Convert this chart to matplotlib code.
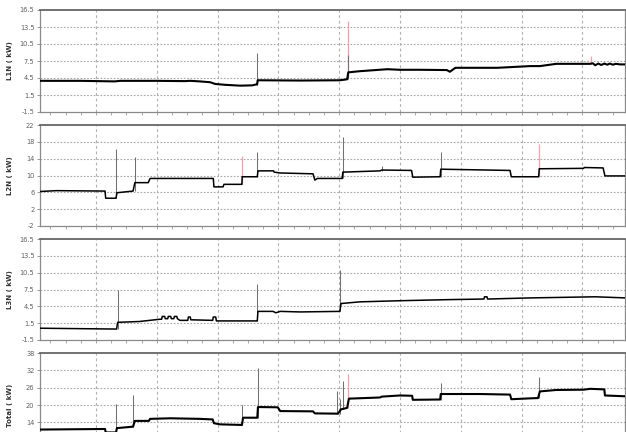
import matplotlib
matplotlib.use("Agg")
import matplotlib.pyplot as plt
from matplotlib.ticker import FixedLocator, MultipleLocator

# time axis in hours (gridlines every hour)
# ---- L1N ----
t_l1 = [-0.92, -0.26, 0.31, 0.40, 1.00, 1.46, 1.55, 1.71, 1.88, 1.96,
        2.12, 2.37, 2.57, 2.63, 2.65, 2.66, 3.36, 4.01, 4.13, 4.15,
        4.34, 4.79, 5.00, 5.33, 5.77, 5.82, 5.91, 6.60, 7.14, 7.30,
        7.57, 8.13, 8.17, 8.21, 8.26, 8.31, 8.36, 8.41, 8.45, 8.50,
        8.55, 8.62, 8.72]
v_l1 = [4.0, 4.0, 3.9, 4.0, 4.0, 3.95, 4.0, 3.9, 3.75, 3.45,
        3.3, 3.15, 3.2, 3.35, 3.35, 4.1, 4.05, 4.1, 4.27, 5.5,
        5.7, 6.05, 5.95, 5.95, 5.9, 5.6, 6.3, 6.3, 6.6, 6.6,
        7.0, 7.0, 7.1, 6.75, 7.05, 6.8, 7.05, 6.85, 7.05, 6.85,
        7.0, 6.9, 6.9]
sp_l1_t = [4.145, 2.65, 4.145, 8.14]
sp_l1_base = [4.27, 3.35, 4.27, 7.0]
sp_l1_top = [14.55, 8.86, 8.55, 8.3]
sp_l1_red = [True, False, False, True]

# ---- L2N ----
t_l2 = [-0.92, -0.65, 0.15, 0.16, 0.33, 0.345, 0.61, 0.64, 0.86, 0.89,
        1.93, 1.94, 2.09, 2.105, 2.40, 2.405, 2.653, 2.664, 2.92, 2.93,
        3.03, 3.57, 3.60, 3.64, 4.05, 4.06, 4.67, 4.70, 5.19, 5.21,
        5.66, 5.67, 6.81, 6.83, 7.28, 7.29, 8.02, 8.03, 8.34, 8.37, 8.72]
v_l2 = [6.2, 6.4, 6.3, 4.6, 4.6, 5.9, 6.3, 8.3, 8.3, 9.3,
        9.3, 7.3, 7.3, 7.9, 7.9, 9.7, 9.7, 11.1, 11.1, 10.8,
        10.6, 10.4, 8.9, 9.3, 9.3, 10.8, 11.1, 11.3, 11.2, 9.6,
        9.7, 11.5, 11.2, 9.7, 9.7, 11.6, 11.7, 11.9, 11.8, 9.9, 9.9]
sp_l2_t = [0.33, 0.64, 2.40, 2.653, 4.058, 4.70, 5.669, 7.286]
sp_l2_base = [4.6, 6.3, 7.9, 9.7, 9.3, 11.1, 9.7, 9.7]
sp_l2_top = [16.3, 14.4, 14.7, 15.5, 19.2, 12.3, 15.7, 17.6]
sp_l2_red = [False, False, True, False, False, False, False, True]

# ---- L3N ----
t_l3 = [-0.92, 0.34, 0.357, 0.72, 1.05, 1.08, 1.09, 1.13, 1.14, 1.18,
        1.19, 1.23, 1.24, 1.28, 1.29, 1.33, 1.34, 1.38, 1.51, 1.52,
        1.55, 1.56, 1.92, 1.93, 1.97, 1.98, 2.653, 2.664, 2.91, 2.96,
        3.03, 3.36, 4.01, 4.03, 4.34, 5.00, 5.82, 6.38, 6.39, 6.43,
        6.44, 7.14, 8.21, 8.72]
v_l3 = [0.6, 0.45, 1.65, 1.8, 2.2, 2.2, 2.7, 2.7, 2.3, 2.3,
        2.7, 2.7, 2.3, 2.3, 2.7, 2.7, 2.3, 2.0, 2.0, 2.6,
        2.6, 2.1, 2.0, 2.6, 2.6, 1.9, 1.9, 3.6, 3.6, 3.35,
        3.6, 3.5, 3.6, 5.0, 5.3, 5.5, 5.7, 5.8, 6.2, 6.2,
        5.8, 6.0, 6.2, 6.0]
sp_l3_t = [0.357, 2.653, 4.013]
sp_l3_base = [0.45, 1.9, 3.6]
sp_l3_top = [7.5, 8.4, 10.9]
sp_l3_red = [False, False, False]

# ---- Total ----
t_tot = [-0.92, 0.15, 0.16, 0.33, 0.345, 0.61, 0.64, 0.87, 0.89, 1.22,
         1.71, 1.92, 1.94, 2.04, 2.40, 2.42, 2.653, 2.664, 2.99, 3.03,
         3.57, 3.60, 3.98, 4.03, 4.13, 4.16, 4.67, 4.70, 5.00, 5.20,
         5.21, 5.66, 5.67, 6.32, 6.81, 6.83, 7.14, 7.27, 7.30, 7.57,
         8.02, 8.13, 8.36, 8.37, 8.72]
v_tot = [11.5, 11.7, 10.5, 10.5, 12.0, 12.5, 14.5, 14.5, 15.2, 15.4,
         15.2, 15.0, 13.7, 13.3, 13.1, 15.6, 15.6, 19.3, 19.2, 17.9,
         17.8, 17.1, 17.0, 18.5, 19.0, 22.2, 22.6, 22.9, 23.3, 23.2,
         21.8, 21.9, 23.8, 23.8, 23.6, 22.0, 22.3, 22.4, 24.7, 25.2,
         25.3, 25.6, 25.4, 23.3, 23.0]
sp_tot_t = [0.33, 0.61, 2.406, 2.66, 3.96, 4.01, 4.06, 4.145, 5.669, 7.286]
sp_tot_base = [10.5, 12.5, 13.1, 15.6, 17.0, 17.0, 18.5, 19.0, 21.9, 22.4]
sp_tot_top = [20.5, 23.5, 19.9, 32.7, 25.0, 22.0, 28.4, 30.6, 27.6, 29.7]
sp_tot_red = [False, False, False, False, False, False, False, True, False, False]

labels = ["L1N ( kW)", "L2N ( kW)", "L3N ( kW)", "Total ( kW)"]
yticks = [[-1.5, 1.5, 4.5, 7.5, 10.5, 13.5, 16.5],
          [-2, 2, 6, 10, 14, 18, 22],
          [-1.5, 1.5, 4.5, 7.5, 10.5, 13.5, 16.5],
          [2, 8, 14, 20, 26, 32, 38]]
# the bottom panel is cut off by the image edge: its two lowest labels are not visible
ytick_labels = [["-1.5", "1.5", "4.5", "7.5", "10.5", "13.5", "16.5"],
                ["-2", "2", "6", "10", "14", "18", "22"],
                ["-1.5", "1.5", "4.5", "7.5", "10.5", "13.5", "16.5"],
                ["", "", "14", "20", "26", "32", "38"]]
hour_grid = [0, 1, 2, 3, 4, 5, 6, 7, 8]

series = [(t_l1, v_l1, sp_l1_t, sp_l1_base, sp_l1_top, sp_l1_red, 1.5),
          (t_l2, v_l2, sp_l2_t, sp_l2_base, sp_l2_top, sp_l2_red, 1.1),
          (t_l3, v_l3, sp_l3_t, sp_l3_base, sp_l3_top, sp_l3_red, 1.1),
          (t_tot, v_tot, sp_tot_t, sp_tot_base, sp_tot_top, sp_tot_red, 1.5)]

W, H = 626, 432
# panel top/bottom in pixels
panels_px = [(10, 112), (125, 226), (239, 340), (353, 457)]
left_px, right_px = 40, 625

fig = plt.figure(figsize=(W / 100, H / 100), dpi=100)
fig.patch.set_facecolor("white")

for i, (top, bot) in enumerate(panels_px):
    ax = fig.add_axes([left_px / W, 1 - bot / H, (right_px - left_px) / W, (bot - top) / H])
    t, v, st, sb, stop, sred, lw = series[i]

    # spikes: red ones first, then grey on top
    for x, b, tp, red in zip(st, sb, stop, sred):
        if red:
            ax.vlines(x, b, tp, color="#f2a0aa", lw=0.9, zorder=2)
    for x, b, tp, red in zip(st, sb, stop, sred):
        if not red:
            ax.vlines(x, b, tp, color="#707070", lw=0.75, zorder=2)

    ax.plot(t, v, color="black", lw=lw, zorder=3)

    ax.set_xlim(-0.92, 8.70)
    ax.set_ylim(yticks[i][0], yticks[i][-1])
    ax.set_yticks(yticks[i])
    ax.set_yticklabels(ytick_labels[i])
    ax.xaxis.set_major_locator(FixedLocator(hour_grid))
    ax.xaxis.set_minor_locator(MultipleLocator(0.25))
    ax.set_xticklabels([])

    for y in yticks[i][1:-1]:
        ax.axhline(y, color="#a8a8a8", lw=0.8, ls=(0, (1.5, 1.5)), zorder=1)
    for x in hour_grid:
        ax.axvline(x, color="#b0b0b0", lw=0.8, ls=(0, (2.5, 2.5)), zorder=1)

    ax.tick_params(axis="y", labelsize=4.8, labelcolor="#606060", length=2.5,
                   width=0.6, color="#888888", pad=1.5)
    ax.tick_params(axis="x", which="both", length=2.5, width=0.6, color="#999999")
    for s in ax.spines.values():
        s.set_color("#8a8a8a")
        s.set_linewidth(0.9)
    ax.spines["top"].set_color("#666666")
    ax.spines["top"].set_linewidth(1.3)

    ax.set_ylabel(labels[i], fontsize=5, color="#333333", fontweight="bold")
    ax.yaxis.set_label_coords(-0.046, 0.5)

fig.savefig("out.png", dpi=100)
